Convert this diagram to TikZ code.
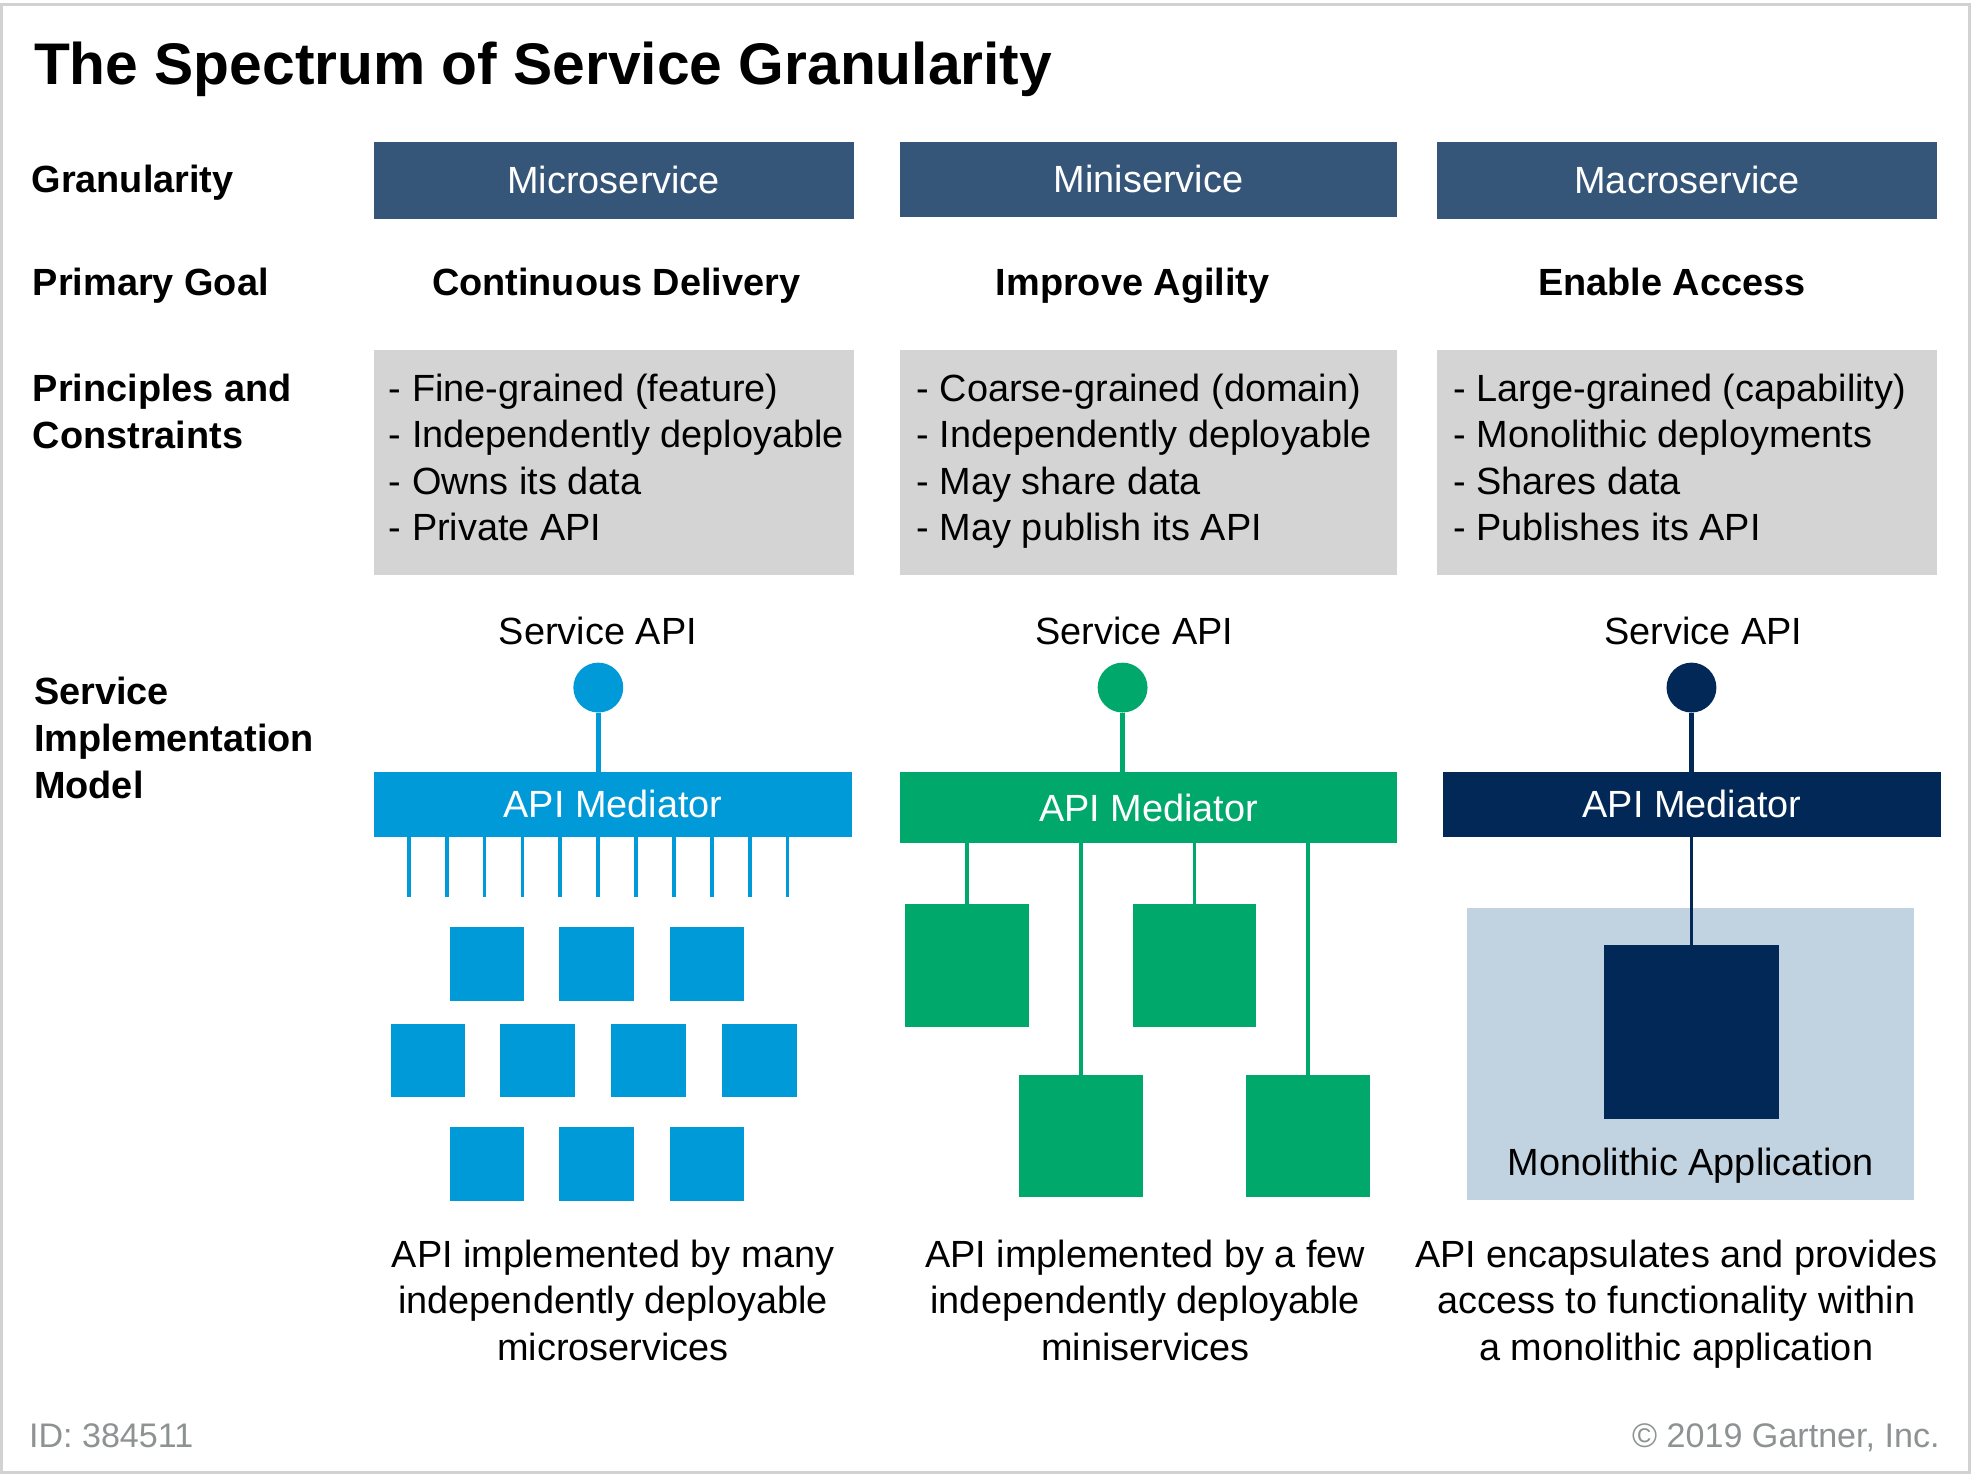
\documentclass[tikz,border=0pt]{standalone}
\usepackage{fontspec}
\setmainfont{Liberation Sans}
\usetikzlibrary{calc}

\definecolor{hdr}{HTML}{355679}
\definecolor{panel}{HTML}{D4D4D4}
\definecolor{micro}{HTML}{009AD8}
\definecolor{mini}{HTML}{00A86B}
\definecolor{macro}{HTML}{012856}
\definecolor{mono}{HTML}{C1D3E1}
\definecolor{framegray}{HTML}{D2D2D2}
\definecolor{footgray}{HTML}{8E9292}

\begin{document}
\begin{tikzpicture}[x=1pt, y=-1pt,
  every node/.style={inner sep=0pt, outer sep=0pt},
  plain/.style={font=\fontsize{30}{36.6}\selectfont},
  rowlabel/.style={font=\fontsize{30}{37}\selectfont\bfseries, anchor=base west, align=left},
  goal/.style={font=\fontsize{30}{36}\selectfont\bfseries, anchor=base},
  header/.style={fill=hdr, text=white, font=\fontsize{30}{36}\selectfont},
  panelbox/.style={fill=panel, minimum height=178},
  bullets/.style={font=\fontsize{30}{36.7}\selectfont, anchor=base west, align=left},
  apilabel/.style={plain, anchor=base},
  apidot/.style={circle, fill=#1, minimum size=39.5},
  mediator/.style={fill=#1, text=white, font=\fontsize{30}{36}\selectfont},
  stem/.style={draw=#1, line width=4.3},
  tick/.style={draw=micro, line width=3},
  link/.style={draw=#1, line width=3},
  microbox/.style={fill=micro, minimum width=59, minimum height=58},
  minibox/.style={fill=mini, minimum width=98, minimum height=97},
  caption/.style={font=\fontsize{30}{36.5}\selectfont, anchor=base, align=center},
  footer/.style={font=\fontsize{27}{30}\selectfont, text=footgray, anchor=base}
]
% page and frame
\useasboundingbox (0,0) rectangle (1568,1167);
\fill[white] (0,0) rectangle (1568,1167);
\draw[framegray, line width=2.4] (0.8,3.4) rectangle (1559.7,1165.8);

% title
\node[font=\fontsize{46.5}{52}\selectfont\bfseries, anchor=base west] (title) at (27,67) {The Spectrum of Service Granularity};

% row labels (multi-line nodes are anchored on their last baseline)
\node[rowlabel] (lgran) at (25,152.5) {Granularity};
\node[rowlabel] (lgoal) at (26,234.4) {Primary Goal};
\node[rowlabel] (lprin) at (26,355) {Principles and\\Constraints};
\node[rowlabel] (limpl) at (27,632) {Service\\Implementation\\Model};

% granularity headers
\node[header, minimum width=380, minimum height=61] (h1) at (486,142.8) {Microservice};
\node[header, minimum width=393, minimum height=59] (h2) at (909.5,142) {Miniservice};
\node[header, minimum width=396, minimum height=61] (h3) at (1336,142.8) {Macroservice};

% primary goals
\node[goal] (goal1) at (488,234.4) {Continuous Delivery};
\node[goal] (goal2) at (897,234.4) {Improve Agility};
\node[goal] (goal3) at (1324,234.4) {Enable Access};

% principles and constraints
\node[panelbox, minimum width=380] (p1) at (486,366) {};
\node[panelbox, minimum width=393] (p2) at (909.5,366) {};
\node[panelbox, minimum width=396] (p3) at (1336,366) {};
\node[bullets] (b1) at (308,428.1) {- Fine-grained (feature)\\- Independently deployable\\- Owns its data\\- Private API};
\node[bullets] (b2) at (726,428.1) {- Coarse-grained (domain)\\- Independently deployable\\- May share data\\- May publish its API};
\node[bullets] (b3) at (1151,428.1) {- Large-grained (capability)\\- Monolithic deployments\\- Shares data\\- Publishes its API};

% service API labels and endpoints
\node[apilabel] (s1) at (473.5,510) {Service API};
\node[apilabel] (s2) at (898.5,510) {Service API};
\node[apilabel] (s3) at (1349,510) {Service API};
\node[apidot=micro] (a1) at (473.8,544.5) {};
\node[apidot=mini] (a2) at (889,544.5) {};
\node[apidot=macro] (a3) at (1339.5,544.5) {};

% API mediators
\node[mediator=micro, minimum width=379, minimum height=51.5] (m1) at (485.5,636.8) {API Mediator};
\node[mediator=mini, minimum width=393, minimum height=56.5] (m2) at (909.5,639.5) {API Mediator};
\node[mediator=macro, minimum width=394, minimum height=51.5] (m3) at (1340,636.8) {API Mediator};

\draw[stem=micro] (a1.south) -- (a1.south |- m1.north);
\draw[stem=mini] (a2.south) -- (a2.south |- m2.north);
\draw[stem=macro] (a3.south) -- (a3.south |- m3.north);

% microservices: many small units behind one mediator
\foreach \i in {0,...,10}
  \draw[tick] (m1.south west) ++(27.7+30.0*\i,0) -- ++(0,47.5);
\node[microbox] (u1) at (385.6,763.4) {};
\node[microbox] (u2) at (472.4,763.4) {};
\node[microbox] (u3) at (560,763.4) {};
\node[microbox] (u4) at (338.8,840) {};
\node[microbox] (u5) at (425.6,840) {};
\node[microbox] (u6) at (513.7,840) {};
\node[microbox] (u7) at (601.6,840) {};
\node[microbox] (u8) at (385.6,921.8) {};
\node[microbox] (u9) at (472.4,921.8) {};
\node[microbox] (u10) at (560,921.8) {};

% miniservices: a few larger units
\node[minibox] (g1) at (765.5,764.5) {};
\node[minibox] (g2) at (946,764.5) {};
\node[minibox] (g3) at (856,899.5) {};
\node[minibox] (g4) at (1036,899.5) {};
\foreach \g in {g1,g2,g3,g4}
  \draw[link=mini] (\g.north |- m2.south) -- (\g.north);

% macroservice: one monolith
\node[fill=mono, minimum width=354, minimum height=231] (app) at (1339,834.8) {};
\node[fill=macro, minimum width=139, minimum height=138] (core) at (1339.5,817) {};
\node[plain, anchor=base] (applabel) at (1339,931) {Monolithic Application};
\draw[link=macro] (core.north |- m3.south) -- (core.north);

% captions
\node[caption] (c1) at (485.5,1077) {API implemented by many\\independently deployable\\microservices};
\node[caption] (c2) at (907,1077) {API implemented by a few\\independently deployable\\miniservices};
\node[caption] (c3) at (1327.5,1077) {API encapsulates and provides\\access to functionality within\\a monolithic application};

% footer
\node[footer, anchor=base west] (docid) at (23,1146) {ID: 384511};
\node[footer, anchor=base east] (copy) at (1536,1146) {\textcopyright{} 2019 Gartner, Inc.};
\end{tikzpicture}
\end{document}
